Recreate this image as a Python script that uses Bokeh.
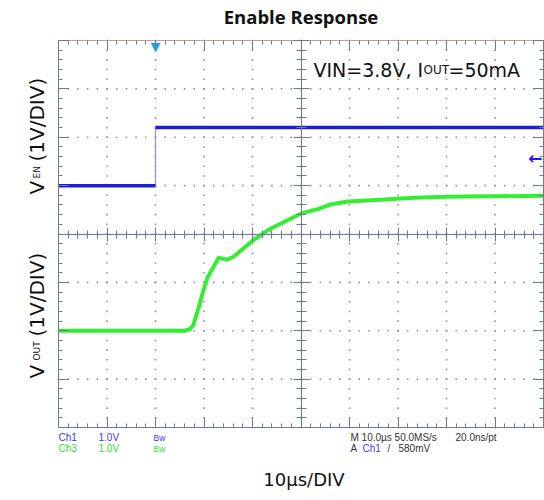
import numpy as np
from bokeh.plotting import figure
from bokeh.models import Range1d, LinearAxis, SingleIntervalTicker, Label
from bokeh.embed import file_html
from bokeh.resources import INLINE

# ---------------- data (read from the scope shot) ----------------
# Ch1 : V_EN  (1 V/div, ground at 5 div)
en_t_us = [0, 20, 20, 100]
en_v = [0.0, 0.0, 1.2, 1.2]
# Ch3 : V_OUT (1 V/div, ground at 2 div)
out_t_us = [0, 26, 27.2, 27.8, 28.9, 29.7, 30.7, 31.8, 33.0, 33.8, 34.8, 36.1,
            40.0, 43.7, 49.9, 53.6, 56.1, 59.6, 66.4, 73.2, 80.2, 100]
out_v = [0.0, 0.0, 0.04, 0.12, 0.48, 0.77, 1.10, 1.29, 1.51, 1.49, 1.47, 1.53,
         1.86, 2.11, 2.42, 2.52, 2.61, 2.67, 2.71, 2.75, 2.77, 2.79]
trigger_t_us = 20
trigger_level_v = 0.58
ch1_zero_div = 5
ch3_zero_div = 2
volts_per_div = 1.0
time_span_us = 100
n_vdiv = 8

# ---------------- layout (pixels) ----------------
W, H = 544, 500
PX_LEFT, PX_TOP = 58, 40          # screen (graticule) position inside canvas
SCR_W, SCR_H = 485, 387           # graticule size

AX = "#6D7A96"
GRID = "#8A95AA"
BLUE = "#1E1ED8"
GREEN = "#33EE33"
TXT = "#111111"

x0 = -PX_LEFT / SCR_W * time_span_us
x1 = (W - PX_LEFT) / SCR_W * time_span_us
y0 = -(H - PX_TOP - SCR_H) / SCR_H * n_vdiv
y1 = n_vdiv + PX_TOP / SCR_H * n_vdiv

p = figure(width=W, height=H, output_backend="svg", toolbar_location=None,
           x_range=Range1d(x0, x1), y_range=Range1d(y0, y1),
           min_border=0, min_border_left=0, min_border_right=0,
           min_border_top=0, min_border_bottom=0,
           background_fill_color="white", border_fill_color="white",
           outline_line_color=None)

xt = SingleIntervalTicker(interval=10, num_minor_ticks=5)
yt = SingleIntervalTicker(interval=1, num_minor_ticks=5)


def style_axis(ax, loc, bounds, tin, tout, mtin, mtout, color=AX):
    ax.fixed_location = loc
    ax.bounds = bounds
    ax.major_tick_in = tin
    ax.major_tick_out = tout
    ax.minor_tick_in = mtin
    ax.minor_tick_out = mtout
    ax.axis_line_color = color
    ax.major_tick_line_color = AX
    ax.minor_tick_line_color = AX
    ax.major_label_text_color = None
    ax.major_label_text_font_size = "0px"
    ax.major_label_standoff = 0
    ax.axis_label = None


XB = (0, time_span_us)
YB = (0, n_vdiv)

# frame edges of the scope screen
bx = p.xaxis[0]
bx.ticker = xt
style_axis(bx, 0, XB, 10, 0, 4, 0)
ly = p.yaxis[0]
ly.ticker = yt
style_axis(ly, 0, YB, 10, 0, 4, 0)

tx = LinearAxis(ticker=xt)
style_axis(tx, n_vdiv, XB, 10, 0, 4, 0, color="#C8A08C")
p.add_layout(tx, "above")

ry = LinearAxis(ticker=yt)
style_axis(ry, time_span_us, YB, 10, 0, 4, 0)
p.add_layout(ry, "right")

# centre cross-hair axes
cx = LinearAxis(ticker=xt)
style_axis(cx, n_vdiv / 2, XB, 7, 7, 4, 4)
p.add_layout(cx, "below")
cy = LinearAxis(ticker=yt)
style_axis(cy, time_span_us / 2, YB, 8, 8, 5, 5)
p.add_layout(cy, "left")

# dotted graticule (dots every 1/5 division along every division line)
p.xgrid.visible = False
p.ygrid.visible = False
sub_t = np.linspace(0, time_span_us, 51)
sub_v = np.linspace(0, n_vdiv, 41)
div_t = np.arange(10, time_span_us, 10)
div_v = np.arange(1, n_vdiv, 1)
gx = np.concatenate([np.repeat(div_t, sub_v.size), np.tile(sub_t, div_v.size)])
gy = np.concatenate([np.tile(sub_v, div_t.size), np.repeat(div_v, sub_t.size)])
p.scatter(gx, gy, marker="square", size=1.6, color=GRID, line_width=0)

# ---------------- traces ----------------
en_y = ch1_zero_div + np.array(en_v) / volts_per_div
out_y = ch3_zero_div + np.array(out_v) / volts_per_div
p.line(en_t_us, en_y, color="#8C8CFF", line_width=1.2)
p.line(en_t_us[:2], en_y[:2], color=BLUE, line_width=3.5)
p.line(en_t_us[2:], en_y[2:], color=BLUE, line_width=3.5)
p.line(out_t_us, out_y, color=GREEN, line_width=4, line_join="round")

# trigger markers
p.add_layout(Label(x=trigger_t_us, y=n_vdiv, text="\u25bc", text_align="center",
                   text_baseline="top", text_color="#2A9BD8",
                   text_font_size="13px", text_font="DejaVu Sans", y_offset=2))
p.add_layout(Label(x=time_span_us, y=ch1_zero_div + trigger_level_v / volts_per_div,
                   text="\u2190", text_align="right", text_baseline="middle",
                   text_color=BLUE, text_font_size="17px", x_offset=-1,
                   text_font="DejaVu Sans", text_font_style="bold"))


def lab(x, y, text, size, color=TXT, align="left", baseline="alphabetic",
        angle=0.0, font="DejaVu Sans", style="normal"):
    p.add_layout(Label(x=x, y=y, x_units="screen", y_units="screen", text=text,
                       text_font_size=f"{size}px", text_color=color,
                       text_align=align, text_baseline=baseline, angle=angle,
                       text_font=font, text_font_style=style))


# title
lab(300.5, 484, "Enable Response", 18.5, align="center", baseline="middle",
    font="Open Sans", style="bold")
# condition text
lab(313, 431, "VIN=3.8V, I", 19)
lab(423, 431, "OUT", 12)
lab(448, 431, "=50mA", 19)
# y labels (rotated)
R = np.pi / 2
lab(36, 306, "V", 20, angle=R)
lab(36, 322, "EN", 9, angle=R)
lab(36, 339, "(1V/DIV)", 20, angle=R)
lab(36, 122, "V", 20, angle=R)
lab(36, 140, "OUT", 9, angle=R)
lab(36, 164, "(1V/DIV)", 20, angle=R)
# scope read-outs
SB = "#3B3BE6"
SG = "#33DD33"
SD = "#333333"
F = "Liberation Sans"
lab(58, 63, "Ch1", 10, color=SB, baseline="middle", font=F)
lab(98, 63, "1.0V", 10, color=SB, baseline="middle", font=F)
lab(153, 63, "Bw", 8.5, color=SB, baseline="middle", font=F)
lab(58, 52, "Ch3", 10, color=SG, baseline="middle", font=F)
lab(98, 52, "1.0V", 10, color=SG, baseline="middle", font=F)
lab(153, 52, "Bw", 8.5, color=SG, baseline="middle", font=F)
lab(350, 63, "M 10.0\u00b5s 50.0MS/s", 10, color=SD, baseline="middle", font=F)
lab(455, 63, "20.0ns/pt", 10, color=SD, baseline="middle", font=F)
lab(350, 52, "A", 10, color=SD, baseline="middle", font=F)
lab(362, 52, "Ch1", 10, color=SB, baseline="middle", font=F)
lab(387, 52, "/", 10, color=SD, baseline="middle", font=F)
lab(398, 52, "580mV", 10, color=SD, baseline="middle", font=F)
# time base
lab(303.5, 21, "10\u00b5s/DIV", 18, align="center", baseline="middle")

open("out.html", "w").write(file_html(p, INLINE))
